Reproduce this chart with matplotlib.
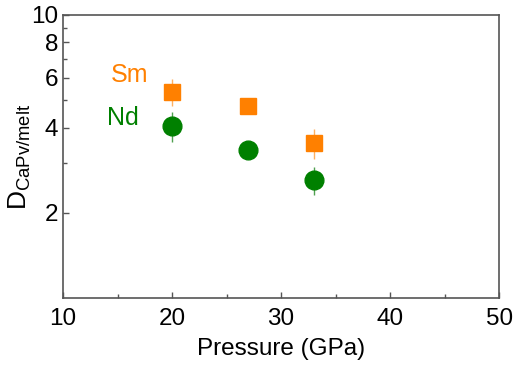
import numpy as np
import matplotlib.pyplot as plt
from matplotlib.ticker import FixedLocator, NullFormatter

plt.rcParams['font.family'] = ['Liberation Sans', 'DejaVu Sans']
plt.rcParams['mathtext.fontset'] = 'custom'
plt.rcParams['mathtext.rm'] = 'Liberation Sans'

# data
pressure = [20, 27, 33]
sm_D = [5.35, 4.77, 3.53]
sm_err = [0.6, 0.0, 0.43]
nd_D = [4.05, 3.33, 2.61]
nd_err = [0.5, 0.0, 0.3]

orange = '#ff8000'
green = '#008000'

fig = plt.figure(figsize=(5.14, 3.65), dpi=100)
ax = fig.add_axes([0.1226, 0.1836, 0.8484, 0.7754])

ax.errorbar(pressure, sm_D, yerr=sm_err, fmt='s', color=orange, ms=12,
            ecolor='#ffb060', elinewidth=1, capsize=0, mec=orange)
ax.errorbar(pressure, nd_D, yerr=nd_err, fmt='o', color=green, ms=13.5,
            ecolor='#50a050', elinewidth=1, capsize=0, mec=green)

ax.text(16.1, 6.14, 'Sm', color=orange, fontsize=18, ha='center', va='center')
ax.text(15.5, 4.33, 'Nd', color=green, fontsize=18, ha='center', va='center')

ax.set_yscale('log')
ax.set_xlim(10, 50)
ax.set_ylim(1, 10)
ax.yaxis.set_major_locator(FixedLocator([2, 4, 6, 8, 10]))
ax.yaxis.set_minor_locator(FixedLocator([3, 5, 7, 9]))
ax.set_yticklabels(['2', '4', '6', '8', '10'])
ax.yaxis.set_minor_formatter(NullFormatter())
ax.set_xticks([10, 20, 30, 40, 50])
ax.set_xticks([15, 25, 35, 45], minor=True)

ax.tick_params(which='both', direction='in', labelsize=17.5, colors='#555555',
               labelcolor='black')
ax.tick_params(which='major', length=4, width=1)
ax.tick_params(which='minor', length=3, width=1)
ax.tick_params(axis='x', pad=7)
for s in ax.spines.values():
    s.set_color('#555555')
    s.set_linewidth(1.2)

ax.set_xlabel('Pressure (GPa)', fontsize=17.5, labelpad=6)
ax.set_ylabel(r'$\mathrm{D}_{\mathrm{CaPv/melt}}$', fontsize=19)
ax.yaxis.set_label_coords(-0.068, 0.5)

fig.savefig('out.png', dpi=100)
